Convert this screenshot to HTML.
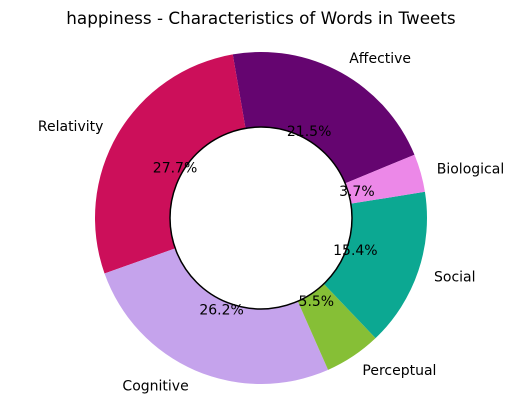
<!DOCTYPE html>
<html><head><meta charset="utf-8"><style>
html,body{margin:0;padding:0;background:#fff;}
svg{display:block;font-family:"DejaVu Sans","Liberation Sans",sans-serif;}
</style></head><body>
<svg id="chart" width="523" height="415" viewBox="0 0 523 415">
<rect width="523" height="415" fill="#fff"/>
<text x="261" y="24" text-anchor="middle" font-size="16.8" fill="#000">happiness - Characteristics of Words in Tweets</text>
<g id="slices"></g>
<g id="labels"></g>
</svg>
<script>
const categories = ["Affective","Relativity","Cognitive","Perceptual","Social","Biological"];
const values = [21.5,27.7,26.2,5.5,15.4,3.7];
const colors = ["#650570","#cc0f5a","#c5a3ec","#86bf36","#0ca892","#ec88e8"];
const startAngle = 22.4;
const cx=261, cy=218, R=166, r=91;
const NS="http://www.w3.org/2000/svg";
const gS=document.getElementById('slices'), gL=document.getElementById('labels');
const total=values.reduce((a,b)=>a+b,0);
function pt(rad,deg){const a=deg*Math.PI/180;return [cx+rad*Math.cos(a), cy-rad*Math.sin(a)];}
let ang=startAngle;
values.forEach((v,i)=>{
  const sweep=v/total*360, a0=ang, a1=ang+sweep, large=sweep>180?1:0;
  const p0=pt(R,a0),p1=pt(R,a1),q1=pt(r,a1),q0=pt(r,a0);
  const p=document.createElementNS(NS,'path');
  p.setAttribute('d',`M${p0[0]},${p0[1]} A${R},${R} 0 ${large} 0 ${p1[0]},${p1[1]} L${q1[0]},${q1[1]} A${r},${r} 0 ${large} 1 ${q0[0]},${q0[1]} Z`);
  p.setAttribute('fill',colors[i]);
  
  
  gS.appendChild(p);
  const mid=(a0+a1)/2, lp=pt(R*1.1,mid);
  const t=document.createElementNS(NS,'text');
  t.setAttribute('x',lp[0]);t.setAttribute('y',lp[1]+5);
  t.setAttribute('font-size','14');
  t.setAttribute('text-anchor',lp[0]>=cx?'start':'end');
  t.textContent=categories[i];
  
  
  gL.appendChild(t);
  const pp=pt(R*0.6,mid);
  const t2=document.createElementNS(NS,'text');
  t2.setAttribute('x',pp[0]);t2.setAttribute('y',pp[1]+5);
  t2.setAttribute('font-size','14');t2.setAttribute('text-anchor','middle');
  t2.textContent=v.toFixed(1)+'%';
  
  
  gL.appendChild(t2);
  ang=a1;
});
const c=document.createElementNS(NS,'circle');
c.setAttribute('cx',cx);c.setAttribute('cy',cy);c.setAttribute('r',r);
c.setAttribute('fill','#fff');c.setAttribute('stroke','#000');c.setAttribute('stroke-width','1.5');


gS.appendChild(c);
</script>
</body></html>
